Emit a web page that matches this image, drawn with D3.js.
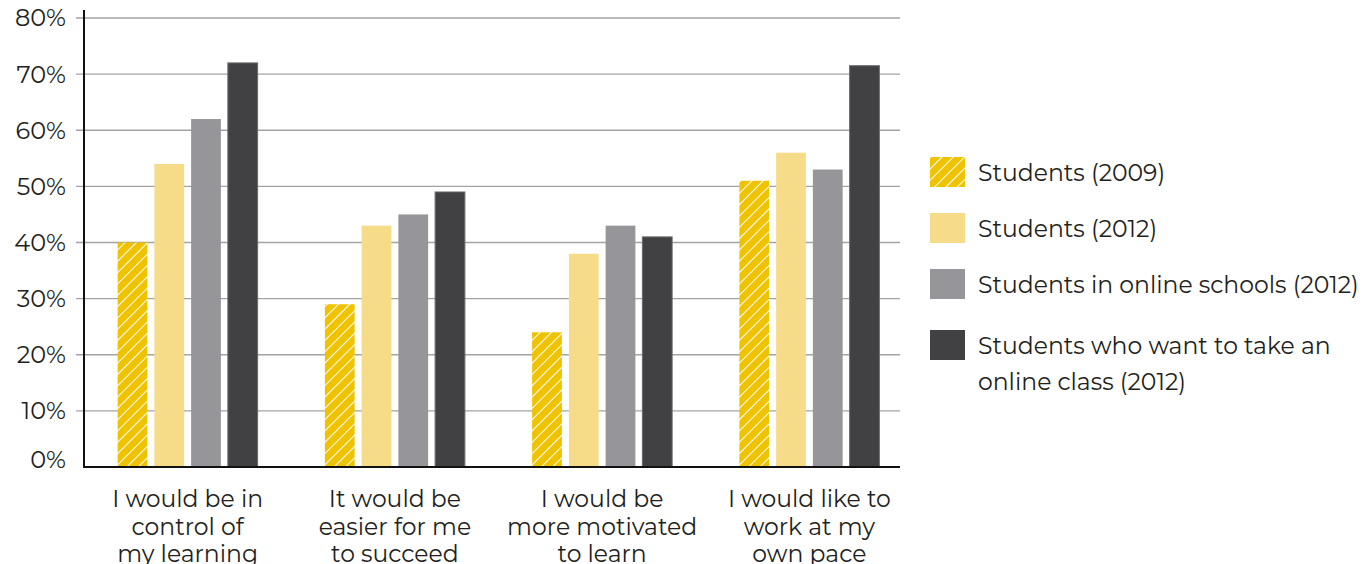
<!DOCTYPE html>
<html>
<head>
<meta charset="utf-8">
<script src="https://cdn.jsdelivr.net/npm/d3@7"></script>
<style>
  body { margin: 0; background: #fff; }
  svg { display: block; font-family: "Montserrat", "Noto Sans", sans-serif; }
</style>
</head>
<body>
<svg id="chart" width="1364" height="564"></svg>
<script>
// categories (x labels, split into lines)
const categories = [
  ["I would be in", "control of", "my learning"],
  ["It would be", "easier for me", "to succeed"],
  ["I would be", "more motivated", "to learn"],
  ["I would like to", "work at my", "own pace"]
];

const seriesNames = [
  "Students (2009)",
  "Students (2012)",
  "Students in online schools (2012)",
  "Students who want to take an online class (2012)"
];

// values in percent, one array per series
const students2009 = [40, 29, 24, 51];
const students2012 = [54, 43, 38, 56];
const onlineSchools2012 = [62, 45, 43, 53];
const wantOnline2012 = [72, 49, 41, 71.5];

const yTicks = [0, 10, 20, 30, 40, 50, 60, 70, 80];

const series = [students2009, students2012, onlineSchools2012, wantOnline2012];
const fills = ["url(#hatch)", "#F6DB88", "#96969A", "#414143"];

const svg = d3.select("#chart");

// hatch pattern for 2009
const defs = svg.append("defs");
const pat = defs.append("pattern")
  .attr("id", "hatch")
  .attr("patternUnits", "userSpaceOnUse")
  .attr("width", 8).attr("height", 8)
  .attr("patternTransform", "rotate(45)");
pat.append("rect").attr("width", 8).attr("height", 8).attr("fill", "#F0C300");
pat.append("line").attr("x1", 0).attr("y1", 0).attr("x2", 0).attr("y2", 8)
  .attr("stroke", "#fff").attr("stroke-width", 2);

const axisX = 84, gridRight = 900;
const y = d3.scaleLinear().domain([0, 80]).range([467, 18]);

const x0 = d3.scaleBand()
  .domain(d3.range(categories.length))
  .range([84, 913]);

const x1 = d3.scaleBand()
  .domain(d3.range(series.length))
  .range([x0.bandwidth() / 2 - 70, x0.bandwidth() / 2 + 70])
  .paddingInner(0.19)
  .paddingOuter(0);

// gridlines
svg.append("g")
  .selectAll("line")
  .data(yTicks.filter(t => t > 0))
  .join("line")
  .attr("x1", axisX - 8).attr("x2", gridRight)
  .attr("y1", d => y(d)).attr("y2", d => y(d))
  .attr("stroke", "#a3a3a3").attr("stroke-width", 1.3);

// y tick labels
svg.append("g")
  .selectAll("text")
  .data(yTicks)
  .join("text")
  .attr("x", 66)
  .attr("y", d => (d === 0 ? y(d) - 7 : y(d)))
  .attr("dy", "0.35em")
  .attr("text-anchor", "end")
  .attr("font-size", 24)
  .attr("fill", "#231f20")
  .text(d => d + "%");

// bars
const groups = svg.append("g")
  .selectAll("g")
  .data(categories.map((c, i) => i))
  .join("g")
  .attr("transform", i => `translate(${x0(i)},0)`);

groups.selectAll("rect")
  .data(i => series.map((s, k) => ({ k, v: s[i] })))
  .join("rect")
  .attr("x", d => x1(d.k))
  .attr("y", d => y(d.v))
  .attr("width", x1.bandwidth())
  .attr("height", d => y(0) - y(d.v))
  .attr("fill", d => fills[d.k])
  .attr("stroke", d => (d.k === 3 ? "#6a6a6c" : "none"))
  .attr("stroke-width", 1);

// axes lines
svg.append("line")
  .attr("x1", axisX).attr("x2", axisX)
  .attr("y1", 10).attr("y2", 468)
  .attr("stroke", "#111").attr("stroke-width", 2);
svg.append("line")
  .attr("x1", axisX - 1).attr("x2", gridRight)
  .attr("y1", 467).attr("y2", 467)
  .attr("stroke", "#111").attr("stroke-width", 2);

// x labels
groups.append("text")
  .attr("text-anchor", "middle")
  .attr("font-size", 23.5)
  .attr("fill", "#231f20")
  .selectAll("tspan")
  .data(i => categories[i])
  .join("tspan")
  .attr("x", x0.bandwidth() / 2)
  .attr("y", (d, j) => 507 + j * 27.5)
  .text(d => d);

// legend
const legendRows = [
  { lines: [seriesNames[0]], y: 157 },
  { lines: [seriesNames[1]], y: 213 },
  { lines: [seriesNames[2]], y: 269 },
  { lines: ["Students who want to take an", "online class (2012)"], y: 330 }
];
const leg = svg.append("g")
  .selectAll("g")
  .data(legendRows)
  .join("g")
  .attr("transform", d => `translate(930,${d.y})`);
leg.append("rect")
  .attr("width", 35).attr("height", 30)
  .attr("fill", (d, i) => fills[i]);
leg.append("text")
  .attr("font-size", 23.5)
  .attr("fill", "#231f20")
  .selectAll("tspan")
  .data(d => d.lines)
  .join("tspan")
  .attr("x", 48)
  .attr("y", (d, j) => 24 + j * 36)
  .text(d => d);
</script>
</body>
</html>
